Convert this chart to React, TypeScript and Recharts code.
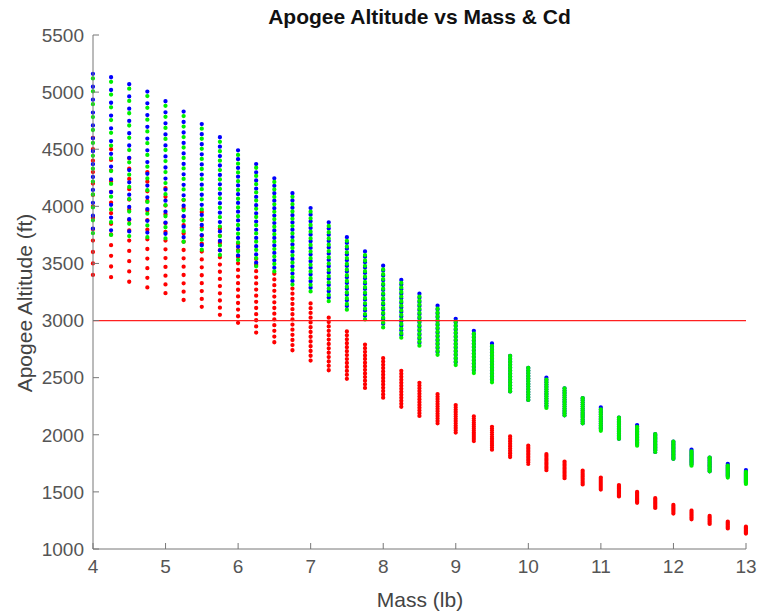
import { ComposedChart, Bar, XAxis, YAxis, ReferenceLine } from 'recharts'

// mass grid (lb)
const MASS = [
  4, 4.25, 4.5, 4.75, 5, 5.25, 5.5, 5.75, 6, 6.25, 6.5, 6.75, 7, 7.25, 7.5, 7.75, 8, 8.25, 8.5,
  8.75, 9, 9.25, 9.5, 9.75, 10, 10.25, 10.5, 10.75, 11, 11.25, 11.5, 11.75, 12, 12.25, 12.5,
  12.75, 13,
]

// apogee spread over the Cd sweep, per mass (ft)
const BLUE_HI = [
  5160, 5130, 5070, 5005, 4920, 4830, 4720, 4605, 4490, 4370, 4245, 4115, 3985, 3860, 3730, 3605,
  3480, 3355, 3235, 3130, 3015, 2910, 2800, 2690, 2585, 2500, 2405, 2320, 2240, 2150, 2085, 2005,
  1940, 1870, 1800, 1745, 1690,
]
const BLUE_LO = [
  3805, 3790, 3780, 3770, 3760, 3730, 3660, 3615, 3570, 3507, 3462, 3347, 3287, 3202, 3127, 3042,
  2972, 2875, 2805, 2725, 2635, 2565, 2485, 2380, 2305, 2253, 2170, 2100, 2053, 1965, 1920, 1850,
  1790, 1745, 1680, 1640, 1585,
]
const GREEN_HI = [
  5120, 5090, 5030, 4965, 4880, 4790, 4680, 4565, 4450, 4338, 4213, 4083, 3953, 3828, 3698, 3573,
  3448, 3330, 3210, 3105, 2990, 2885, 2775, 2690, 2585, 2482, 2405, 2320, 2222, 2150, 2070, 2005,
  1940, 1855, 1800, 1730, 1675,
]
const GREEN_LO = [
  3765, 3750, 3740, 3730, 3720, 3690, 3620, 3575, 3530, 3475, 3430, 3315, 3255, 3170, 3095, 3010,
  2940, 2850, 2780, 2700, 2610, 2540, 2460, 2380, 2305, 2235, 2170, 2100, 2035, 1965, 1905, 1850,
  1790, 1730, 1680, 1625, 1570,
]
const RED_HI = [
  4600, 4500, 4420, 4300, 4160, 4055, 3950, 3805, 3675, 3540, 3410, 3280, 3150, 3025, 2905, 2790,
  2670, 2560, 2455, 2355, 2260, 2160, 2070, 1985, 1905, 1830, 1765, 1685, 1625, 1560, 1500, 1445,
  1385, 1335, 1290, 1240, 1195,
]
const RED_LO = [
  3400, 3380, 3340, 3290, 3240, 3180, 3120, 3050, 2980, 2895, 2810, 2740, 2650, 2565, 2490, 2410,
  2325, 2245, 2165, 2100, 2020, 1945, 1870, 1805, 1745, 1690, 1620, 1565, 1520, 1460, 1405, 1360,
  1310, 1260, 1220, 1180, 1135,
]

const X_TICKS = [4, 5, 6, 7, 8, 9, 10, 11, 12, 13]
const Y_TICKS = [1000, 1500, 2000, 2500, 3000, 3500, 4000, 4500, 5000, 5500]
const TARGET_ALT = 3000
const DOTS_PER_COLUMN = 13

const FONT = '"Liberation Sans", Arial, Helvetica, sans-serif'

const data = MASS.map((m, i) => ({
  mass: m,
  red: [RED_LO[i], RED_HI[i]],
  blue: [BLUE_LO[i], BLUE_HI[i]],
  green: [GREEN_LO[i], GREEN_HI[i]],
}))

// draws a range bar as a column of dots (one per Cd step)
const dotColumn = (color: string) => (props: any) => {
  const { x, y, width, height } = props
  if (x == null || y == null || height == null) return <g />
  const top = Math.min(y, y + height)
  const len = Math.abs(height)
  const cx = x + width / 2
  const gap = Math.max(len / (DOTS_PER_COLUMN - 1), 0.5)
  return (
    <line
      x1={cx}
      x2={cx}
      y1={top}
      y2={top + len + 0.05}
      stroke={color}
      strokeWidth={4.3}
      strokeLinecap="round"
      strokeDasharray={`0.01 ${gap - 0.01}`}
    />
  )
}

export default function App() {
  return (
    <div
      style={{
        position: 'absolute',
        left: 0,
        top: 0,
        width: 762,
        height: 615,
        background: '#fff',
        fontFamily: FONT,
      }}
    >
      <div
        style={{
          position: 'absolute',
          left: 93,
          width: 653,
          top: 5,
          textAlign: 'center',
          fontWeight: 'bold',
          fontSize: 21,
          color: '#111',
        }}
      >
        Apogee Altitude vs Mass &amp; Cd
      </div>
      <div
        style={{
          position: 'absolute',
          left: 420,
          top: 600,
          transform: 'translate(-50%, -50%)',
          fontSize: 21,
          color: '#444',
          whiteSpace: 'nowrap',
        }}
      >
        Mass (lb)
      </div>
      <div
        style={{
          position: 'absolute',
          left: 25,
          top: 303,
          transform: 'translate(-50%, -50%) rotate(-90deg)',
          fontSize: 21,
          color: '#444',
          whiteSpace: 'nowrap',
        }}
      >
        Apogee Altitude (ft)
      </div>
      <ComposedChart
        width={762}
        height={615}
        data={data}
        margin={{ top: 35, right: 16, bottom: 16, left: 0 }}
      >
        <XAxis
          dataKey="mass"
          type="number"
          domain={[4, 13]}
          ticks={X_TICKS}
          height={50}
          tickSize={-6}
          tickMargin={17}
          tick={{ fill: '#555', fontSize: 19, fontFamily: FONT }}
          axisLine={{ stroke: '#777' }}
          tickLine={{ stroke: '#777' }}
        />
        <XAxis xAxisId="b" dataKey="mass" type="number" domain={[4, 13]} hide />
        <XAxis xAxisId="g" dataKey="mass" type="number" domain={[4, 13]} hide />
        <YAxis
          type="number"
          domain={[1000, 5500]}
          ticks={Y_TICKS}
          width={93}
          tickSize={-6}
          tickMargin={15}
          tick={{ fill: '#555', fontSize: 19, fontFamily: FONT }}
          axisLine={{ stroke: '#777' }}
          tickLine={{ stroke: '#777' }}
        />
        <ReferenceLine y={TARGET_ALT} stroke="#ff2020" strokeWidth={1.3} />
        <Bar dataKey="red" barSize={4} shape={dotColumn('#ff0000')} isAnimationActive={false} />
        <Bar
          dataKey="blue"
          xAxisId="b"
          barSize={4}
          shape={dotColumn('#0000ff')}
          isAnimationActive={false}
        />
        <Bar
          dataKey="green"
          xAxisId="g"
          barSize={4}
          shape={dotColumn('#00f000')}
          isAnimationActive={false}
        />
      </ComposedChart>
    </div>
  )
}
